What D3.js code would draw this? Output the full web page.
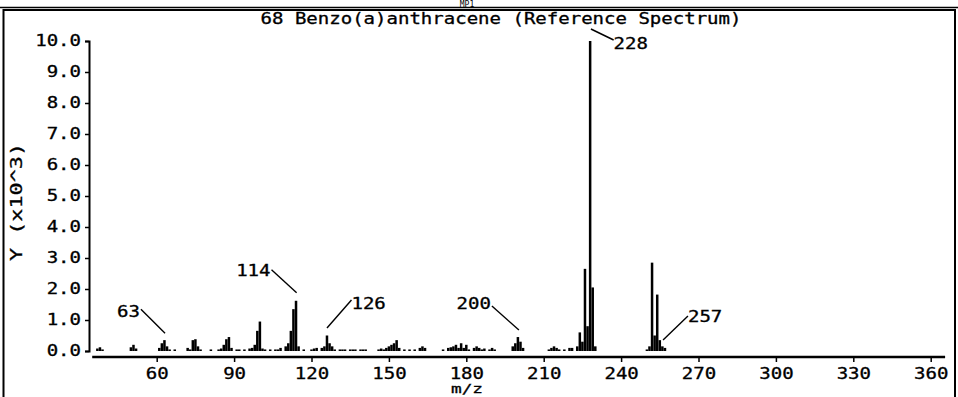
<!DOCTYPE html>
<html>
<head>
<meta charset="utf-8">
<script src="https://cdn.jsdelivr.net/npm/d3@7"></script>
<style>
  html, body { margin: 0; padding: 0; background: #fff; }
  svg { display: block; }
  text { font-family: "DejaVu Sans Mono", "Liberation Mono", monospace; fill: #000; stroke: #000; stroke-width: 0.3px; }
</style>
</head>
<body>
<svg id="chart" width="958" height="397"></svg>
<script>
// ---------- data ----------
const title = "68 Benzo(a)anthracene (Reference Spectrum)";
const headerText = "MP1";
const xLabel = "m/z";
const yLabel = "Y (x10^3)";
const xTicks = [60, 90, 120, 150, 180, 210, 240, 270, 300, 330, 360];
const yTicks = [0, 1, 2, 3, 4, 5, 6, 7, 8, 9, 10];
const xDomain = [35, 365];
const yDomain = [0, 10];

// m/z values and intensities (x10^3)
const mz = [37, 38, 39, 50, 51, 52, 61, 62, 63, 64, 65, 67, 72, 73, 74, 75, 76, 77,
  81, 84, 85, 86, 87, 88, 89, 91, 92, 94, 96, 97, 98, 99, 100, 101, 102, 104,
  106, 107, 108, 110, 111, 112, 113, 114, 115, 117, 120, 121, 122, 124, 125, 126, 127, 128, 129,
  131, 132, 133, 135, 136, 137, 139, 140, 141, 146, 147, 148, 149, 150, 151, 152, 153, 154,
  156, 158, 160, 162, 163, 164, 171, 173, 174, 175, 176, 177, 178, 179, 180, 181,
  183, 184, 185, 186, 187, 189, 190, 191, 198, 199, 200, 201, 202,
  212, 213, 214, 215, 216, 218, 220, 221, 223, 224, 225, 226, 227, 228, 229, 230,
  250, 251, 252, 253, 254, 255, 256, 257];
const intensity = [0.08, 0.12, 0.05, 0.12, 0.2, 0.08, 0.1, 0.25, 0.35, 0.15, 0.05, 0.05, 0.1, 0.05, 0.35, 0.38, 0.15, 0.05,
  0.05, 0.05, 0.08, 0.2, 0.38, 0.45, 0.1, 0.05, 0.05, 0.05, 0.08, 0.1, 0.2, 0.65, 0.95, 0.08, 0.05, 0.05,
  0.05, 0.05, 0.1, 0.15, 0.25, 0.65, 1.35, 1.62, 0.15, 0.05, 0.05, 0.08, 0.1, 0.1, 0.15, 0.5, 0.25, 0.15, 0.05,
  0.05, 0.05, 0.05, 0.05, 0.05, 0.05, 0.05, 0.05, 0.05, 0.05, 0.08, 0.05, 0.1, 0.15, 0.2, 0.25, 0.35, 0.1,
  0.05, 0.05, 0.05, 0.1, 0.15, 0.1, 0.05, 0.1, 0.12, 0.15, 0.2, 0.1, 0.25, 0.1, 0.2, 0.05,
  0.1, 0.15, 0.1, 0.05, 0.08, 0.05, 0.1, 0.05, 0.15, 0.25, 0.45, 0.3, 0.1,
  0.05, 0.1, 0.15, 0.1, 0.05, 0.05, 0.1, 0.1, 0.15, 0.6, 0.3, 2.65, 0.8, 10.0, 2.05, 0.15,
  0.05, 0.15, 2.85, 0.5, 1.82, 0.35, 0.15, 0.1];

// annotated peaks
const labelMz = [63, 114, 126, 200, 228, 257];

// ---------- layout / style ----------
const W = 958, H = 397;
const plot = { left: 92.2, right: 943.6, top: 41, bottom: 351 };
const xAxisY = 357, yAxisX = 89;
const charW = 11.45, fontSize = 15;
const labelGeom = {
  63:  { l1: [0.6, -7], l2: [-23.5, -31], t: [-24.5, -23], anchor: "end" },
  114: { l1: [0.6, -8], l2: [-24.5, -31], t: [-25.5, -24.5], anchor: "end" },
  126: { l1: [0, -7.5], l2: [24.5, -35.5], t: [24.5, -26.5], anchor: "start" },
  200: { l1: [1, -7], l2: [-26, -31], t: [-27, -28], anchor: "end" },
  228: { l1: [0.8, -12], l2: [23.5, -1], t: [23.5, 8], anchor: "start" },
  257: { l1: [-1.9, -8], l2: [23, -32], t: [23, -26], anchor: "start" }
};

const svg = d3.select("#chart");
const x = d3.scaleLinear().domain(xDomain).range([plot.left, plot.right]);
const y = d3.scaleLinear().domain(yDomain).range([plot.bottom, plot.top]);

function fitText(sel, w) {
  sel.each(function () {
    const t = d3.select(this);
    const s = t.text();
    t.attr("textLength", w || s.length * charW).attr("lengthAdjust", "spacingAndGlyphs");
  });
}

// header strip and frame
svg.append("text").attr("x", 467).attr("y", 6.5).attr("text-anchor", "middle")
  .style("font-size", "8px").style("stroke-width", "0px").text(headerText);
svg.append("line").attr("x1", 0).attr("x2", W).attr("y1", 7.5).attr("y2", 7.5)
  .attr("stroke", "#000").attr("stroke-width", 1.5);
svg.append("rect").attr("x", 3.5).attr("y", 10).attr("width", 951.5).attr("height", 400)
  .attr("fill", "none").attr("stroke", "#000").attr("stroke-width", 2);

// title
svg.append("text").attr("x", 501).attr("y", 24).attr("text-anchor", "middle")
  .style("font-size", fontSize + "px").text(title).call(fitText);

// bars
svg.append("g").selectAll("rect").data(mz.map((m, i) => ({ m, v: intensity[i] })))
  .join("rect")
  .attr("x", d => x(d.m) - 1.25)
  .attr("width", 2.5)
  .attr("y", d => y(d.v))
  .attr("height", d => Math.max(1, y(0) - y(d.v)))
  .attr("fill", "#000");

// y axis
const gy = svg.append("g").attr("transform", `translate(${yAxisX},0)`)
  .call(d3.axisLeft(y).tickValues(yTicks).tickFormat(d3.format(".1f")).tickSize(4).tickSizeOuter(4).tickPadding(4));
gy.select(".domain").attr("stroke-width", 2);
gy.selectAll(".tick line").attr("stroke-width", 1.5);
gy.selectAll("text").style("font-size", fontSize + "px").attr("font-family", null).call(fitText);

// x axis
const gx = svg.append("g").attr("transform", `translate(0,${xAxisY})`)
  .call(d3.axisBottom(x).tickValues(xTicks).tickSize(5).tickSizeOuter(0));
gx.select(".domain").attr("stroke-width", 2.5).attr("d", `M${plot.left},0H${plot.right + 1.5}`);
gx.selectAll(".tick line").attr("stroke-width", 1.5);
gx.selectAll("text").attr("y", 22).attr("dy", 0).style("font-size", fontSize + "px")
  .attr("font-family", null).call(fitText);

// axis titles
svg.append("text").attr("transform", "translate(22,202) rotate(-90)").attr("text-anchor", "middle")
  .style("font-size", fontSize + "px").text(yLabel).call(fitText, 118);
svg.append("text").attr("x", 467).attr("y", 392.5).attr("text-anchor", "middle")
  .style("font-size", "12px").text(xLabel).call(fitText, 32);

// peak annotations
const ann = svg.append("g");
labelMz.forEach(m => {
  const v = intensity[mz.indexOf(m)];
  const px = x(m), py = y(v);
  const g = labelGeom[m];
  ann.append("line")
    .attr("x1", px + g.l1[0]).attr("y1", py + g.l1[1])
    .attr("x2", px + g.l2[0]).attr("y2", py + g.l2[1])
    .attr("stroke", "#000").attr("stroke-width", 1.4);
  ann.append("text").attr("x", px + g.t[0]).attr("y", py + g.t[1])
    .attr("text-anchor", g.anchor).style("font-size", fontSize + "px")
    .text(String(m)).call(fitText);
});
</script>
</body>
</html>
